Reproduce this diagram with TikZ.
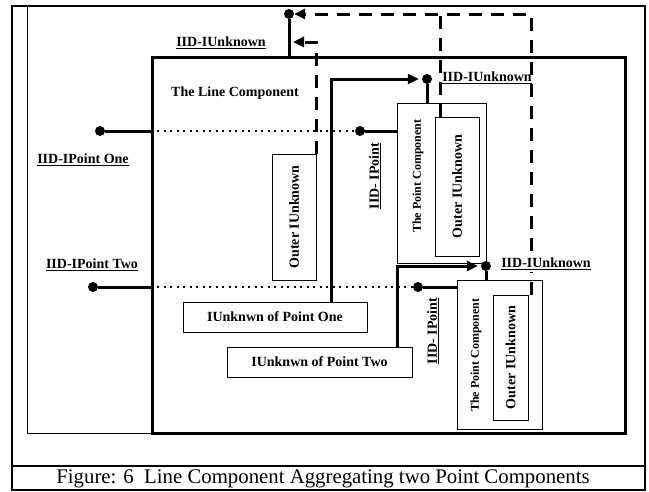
\documentclass[tikz,border=0pt]{standalone}
\usepackage{fontspec}
\setmainfont{Liberation Serif}
\usetikzlibrary{arrows.meta}

\begin{document}
\begin{tikzpicture}[x=1pt, y=-1pt,
    txt/.style={font=\bfseries\fontsize{14}{16}\selectfont, inner sep=0pt},
    small/.style={font=\bfseries\fontsize{12}{14}\selectfont, inner sep=0pt},
    box/.style={draw, line width=0.8pt, inner sep=0pt},
    pin/.style={circle, fill, inner sep=0pt, minimum size=10pt},
    conn/.style={line width=3pt},
    dashconn/.style={line width=3pt, dash pattern=on 13pt off 9pt},
    dotline/.style={line width=2pt, dash pattern=on 2pt off 4.5pt},
    tip/.style={-{Triangle[length=11pt,width=10pt]}}]
    \useasboundingbox (0,0) rectangle (649,491);
    % frame and caption
    \draw [line width=2.5pt] (12,6) -- (645,6) -- (645,490) -- (12,490) -- cycle;
    \draw [line width=1.5pt] (12,466) -- (645,466);
    \draw [line width=0.8pt] (27,6) -- (27,433) -- (152,433);
    \node [font=\fontsize{20.8}{24}\selectfont] (caption) at (323,479) {Figure: 6\ \ Line Component Aggregating two Point Components};
    % the line component
    \node [draw, line width=3pt, minimum width=473, minimum height=376] (linecomp) at (388.5,245) {};
    \node [txt] (linetitle) at (235,93) {The Line Component};
    \node [box, minimum width=44, minimum height=126] (outerL) at (294,217) {};
    \node [txt, rotate=90] (outerLtext) at (outerL) {Outer IUnknown};
    \node [box, txt, minimum width=184, minimum height=30] (uk1) at (275,317) {IUnknwn of Point One};
    \node [box, txt, minimum width=185, minimum height=30] (uk2) at (319.5,362) {IUnknwn of Point Two};
    % point components
    \node [box, minimum width=89, minimum height=160] (pc1) at (441.5,183) {};
    \node [small, rotate=90] (pc1text) at (418,176) {The Point Component};
    \node [box, minimum width=44, minimum height=139] (in1) at (457,186.5) {};
    \node [txt, rotate=90] (in1text) at (in1) {Outer IUnknown};
    \node [box, minimum width=85, minimum height=149] (pc2) at (499.5,354.5) {};
    \node [small, rotate=90] (pc2text) at (476,355) {The Point Component};
    \node [box, minimum width=35, minimum height=125] (in2) at (510.5,357.5) {};
    \node [txt, rotate=90] (in2text) at (in2) {Outer IUnknown};
    % pins
    \node [pin] (pintop) at (289,14) {};
    \node [pin] (pinone) at (100,131) {};
    \node [pin] (pintwo) at (93,287) {};
    \node [pin] (pinp1) at (360,131) {};
    \node [pin] (pinp2) at (418,287) {};
    \node [pin] (pinu1) at (427,79) {};
    \node [pin] (pinu2) at (486,266) {};
    % lollipops
    \draw [conn] (pintop) -- (pintop |- linecomp.north);
    \draw [conn] (pinone) -- (pinone -| linecomp.west);
    \draw [conn] (pintwo) -- (pintwo -| linecomp.west);
    \draw [dotline] (pinone -| linecomp.west) -- (pinp1);
    \draw [dotline] (pintwo -| linecomp.west) -- (pinp2);
    \draw [conn] (pinp1) -- (pinp1 -| pc1.west);
    \draw [conn] (pinp2) -- (pinp2 -| pc2.west);
    \draw [conn] (pinu1) -- (pinu1 |- pc1.north);
    \draw [conn] (pinu2) -- (pinu2 |- pc2.north);
    % IUnknown of each point
    \draw [conn, tip, shorten >=3pt] ([xshift=56pt]uk1.north) |- (pinu1.west);
    \draw [conn, tip, shorten >=3pt] ([xshift=77.5pt]uk2.north) |- (pinu2.west);
    % outer unknown
    \coordinate (drop1) at ([xshift=6pt]in1.north west);
    \coordinate (drop2) at ([xshift=3pt]in2.north east);
    \draw [dashconn, tip] (drop2) |- (pintop.east);
    \draw [dashconn] (drop1) -- (drop1 |- pintop);
    \draw [dashconn, tip, shorten >=4pt] (outerL.north east) |- ([yshift=-28pt]pintop.center);
    % labels
    \node [txt] (iidtop) at (221,43) {\underline{IID-IUnknown}};
    \node [txt] (iidone) at (83,160) {\underline{IID-IPoint One}};
    \node [txt] (iidtwo) at (92,265) {\underline{IID-IPoint Two}};
    \node [txt] (iidu1) at (487,78) {\underline{IID-IUnknown}};
    \node [txt, fill=white, inner sep=2pt] (iidu2) at (546,264) {\underline{IID-IUnknown}};
    \node [txt, rotate=90] (iidp1) at (375,176) {\underline{IID- IPoint}};
    \node [txt, rotate=90] (iidp2) at (433,331) {\underline{IID- IPoint}};
\end{tikzpicture}
\end{document}
